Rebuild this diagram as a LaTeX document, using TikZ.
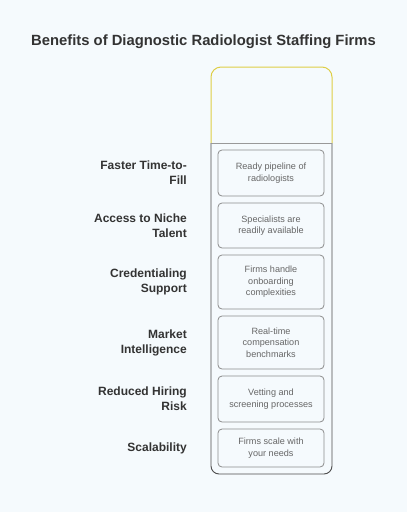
\documentclass[tikz,border=0pt]{standalone}
\usepackage{fontspec}
\setmainfont{Liberation Sans}
\begin{document}
\begin{tikzpicture}[x=1pt,y=-1pt,
  lbl/.style={anchor=east,align=right,font=\fontsize{12}{15}\selectfont\bfseries,text=black!80,inner sep=0pt},
  card/.style={draw=black!45,line width=0.8pt,rounded corners=4pt,minimum width=106pt,align=center,
     font=\fontsize{9.1}{11.5}\selectfont,text=black!60,inner sep=0pt}]
\useasboundingbox[fill={rgb,255:red,245;green,250;blue,253}] (0,0) rectangle (407,512);
\node[font=\fontsize{14.8}{17}\selectfont\bfseries,text=black!80] (title) at (203.5,42) {Benefits of Diagnostic Radiologist Staffing Firms};
% container
\draw[draw={rgb,255:red,222;green,206;blue,70},line width=1pt,rounded corners=10pt] (211,143) -- (211,67) -- (332,67) -- (332,143);
\draw[draw=black!70,line width=0.9pt,rounded corners=8pt] (211,143) -- (211,474) -- (332,474) -- (332,143);
\draw[draw=black!40,line width=1pt] (211,143) -- (332,143);
% cards
\node[card,minimum height=46pt] (c1) at (271,173) {Ready pipeline of\\radiologists};
\node[card,minimum height=45pt] (c2) at (271,225.5) {Specialists are\\readily available};
\node[card,minimum height=54pt] (c3) at (271,282) {Firms handle\\onboarding\\complexities};
\node[card,minimum height=53pt] (c4) at (271,342.5) {Real-time\\compensation\\benchmarks};
\node[card,minimum height=46pt] (c5) at (271,399) {Vetting and\\screening processes};
\node[card,minimum height=38pt] (c6) at (271,448) {Firms scale with\\your needs};
% labels
\node[lbl] (l1) at (187,173) {Faster Time-to-\\Fill};
\node[lbl] (l2) at (187,226) {Access to Niche\\Talent};
\node[lbl] (l3) at (187,282) {Credentialing\\Support};
\node[lbl] (l4) at (187,342.5) {Market\\Intelligence};
\node[lbl] (l5) at (187,399) {Reduced Hiring\\Risk};
\node[lbl] (l6) at (187,448) {Scalability};
\end{tikzpicture}
\end{document}
